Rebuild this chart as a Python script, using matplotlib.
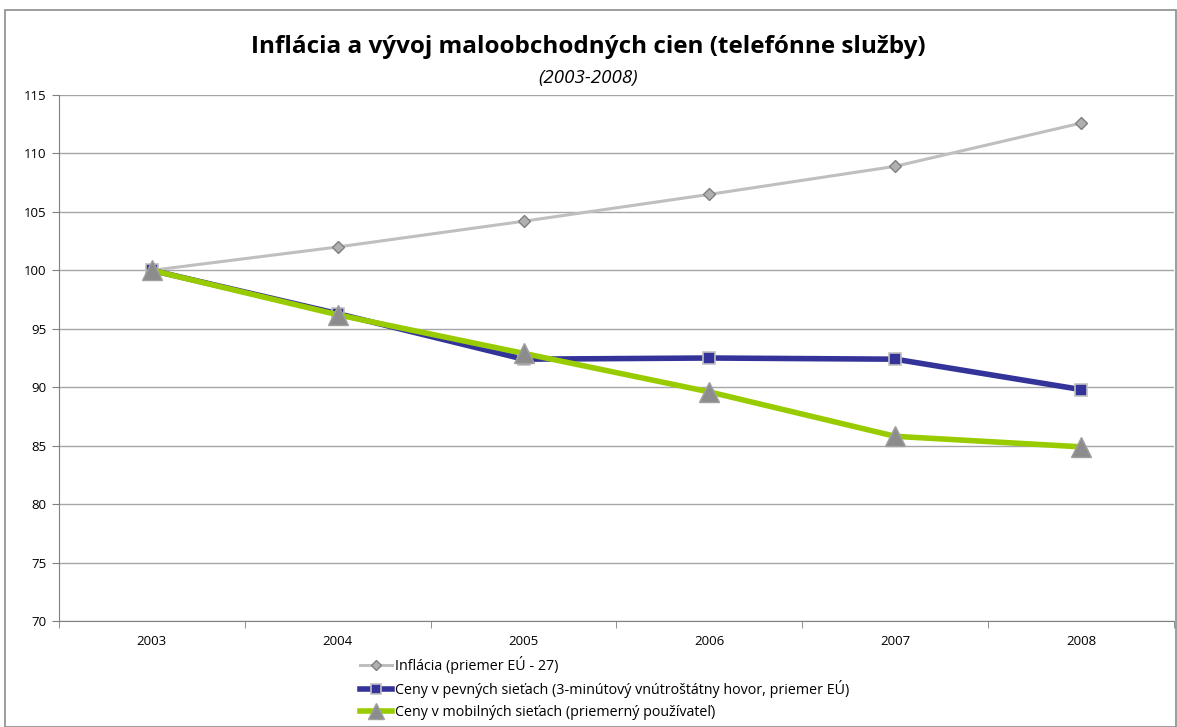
import matplotlib
matplotlib.use("Agg")
import matplotlib.pyplot as plt
from matplotlib.patches import Rectangle

years = ["2003", "2004", "2005", "2006", "2007", "2008"]
inflacia = [100.0, 102.0, 104.2, 106.5, 108.9, 112.6]
pevne = [100.0, 96.3, 92.4, 92.5, 92.4, 89.8]
mobilne = [100.0, 96.2, 92.9, 89.6, 85.8, 84.9]
labels = ["Inflácia (priemer EÚ - 27)",
          "Ceny v pevných sieťach (3-minútový vnútroštátny hovor, priemer EÚ)",
          "Ceny v mobilných sieťach (priemerný používateľ)"]
yticks = [70, 75, 80, 85, 90, 95, 100, 105, 110, 115]

plt.rcParams['font.family'] = ['Open Sans', 'DejaVu Sans']

fig = plt.figure(figsize=(11.77, 7.27), dpi=100)
fig.patches.append(Rectangle((0.004, 0.0), 0.995, 0.986, transform=fig.transFigure,
                             fill=False, edgecolor='#8c8c8c', linewidth=1.2))
ax = fig.add_axes([0.050, 0.1458, 0.9475, 0.7235])

x = list(range(len(years)))
ax.plot(x, inflacia, color='#BFBFBF', linewidth=2.2, marker='D', markersize=6.5,
        markerfacecolor='#B0B0B0', markeredgecolor='#808080', markeredgewidth=1.0,
        label=labels[0], zorder=3)
ax.plot(x, pevne, color='#333399', linewidth=4, marker='s', markersize=9,
        markerfacecolor='#333399', markeredgecolor='#C0C0C0', markeredgewidth=1.2,
        label=labels[1], zorder=4)
ax.plot(x, mobilne, color='#99CC00', linewidth=4, marker='^', markersize=14,
        markerfacecolor='#8C8C8C', markeredgecolor='#A0A0A0', markeredgewidth=1.0,
        label=labels[2], zorder=5)

ax.set_xlim(-0.5, len(years) - 0.5)
ax.set_ylim(70, 115)
ax.set_yticks(yticks)
ax.set_xticks(x)
ax.set_xticklabels(years)
ax.set_xticks([i - 0.5 for i in range(len(years) + 1)], minor=True)
ax.tick_params(axis='x', which='major', length=0, pad=10, labelsize=9.5)
ax.tick_params(axis='x', which='minor', length=5, color='#808080', direction='out')
ax.tick_params(axis='y', length=5, color='#808080', direction='out', labelsize=9.5, pad=4)
ax.grid(axis='y', color='#A6A6A6', linewidth=1.0)
ax.set_axisbelow(True)
for s in ['top', 'right']:
    ax.spines[s].set_visible(False)
for s in ['left', 'bottom']:
    ax.spines[s].set_color('#808080')

fig.text(0.5, 0.935, "Inflácia a vývoj maloobchodných cien (telefónne služby)",
         ha='center', va='center', fontsize=17.5, fontweight='bold')
fig.text(0.5, 0.893, "(2003-2008)", ha='center', va='center', fontsize=13.5, style='italic')

leg = fig.legend(loc='upper left', bbox_to_anchor=(0.3, 0.108), frameon=False,
                 fontsize=10.3, handlelength=2.2, labelspacing=0.45, borderpad=0,
                 handletextpad=0.2, markerscale=0.8)

fig.savefig("out.png", dpi=100)
